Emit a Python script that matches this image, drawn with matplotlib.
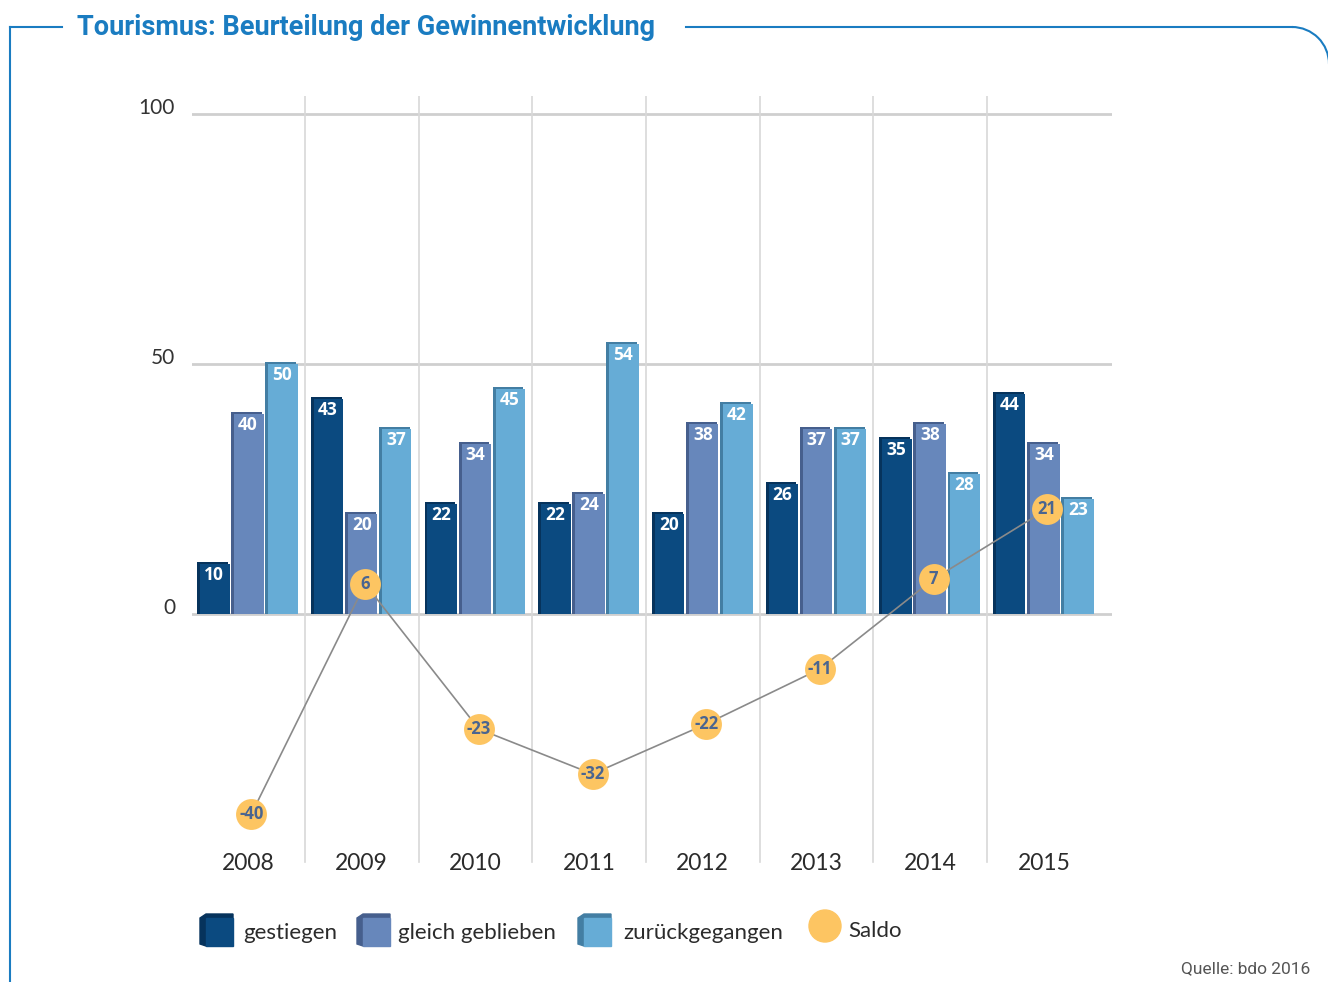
import numpy as np
import matplotlib
matplotlib.use("Agg")
import matplotlib.pyplot as plt
from matplotlib.patches import Rectangle, Circle, Polygon, Arc

# data
years = ["2008", "2009", "2010", "2011", "2012", "2013", "2014", "2015"]
gestiegen = [10, 43, 22, 22, 20, 26, 35, 44]
gleich = [40, 20, 34, 24, 38, 37, 38, 34]
zurueck = [50, 37, 45, 54, 42, 37, 28, 23]
saldo = [-40, 6, -23, -32, -22, -11, 7, 21]
yticks = [0, 50, 100]

series_names = ["gestiegen", "gleich geblieben", "zurückgegangen"]
colors = ["#0b4a80", "#6787bb", "#66acd6"]
shade = ["#06335c", "#465f8d", "#437ea3"]
blue = "#1a7cc1"
dot_col = "#fdc562"
dot_txt = "#4a6590"

plt.rcParams['font.family'] = ['Lato', 'DejaVu Sans']

fig = plt.figure(figsize=(13.28, 9.82), dpi=100)
W, H = 1328, 982

# main chart axes placed in pixel coords
left, right, top, bottom = 192, 1112, 96, 880
ax = fig.add_axes([left / W, 1 - bottom / H, (right - left) / W, (bottom - top) / H])
ax.set_xlim(-0.4925, 7.599)
ax.set_ylim(-53.2, 103.6)
ax.axis('off')

x = np.arange(len(years))

# grid
for v in yticks:
    ax.axhline(v, color="#cfcfcf", lw=2, zorder=1)
    ax.annotate(str(v), (-0.4925, v), xytext=(-17, 6), textcoords='offset pixels',
                ha='right', va='center', fontsize=15, color="#333333",
                annotation_clip=False)
for k in range(len(years) - 1):
    ax.plot([k + 0.5, k + 0.5], [-49.6, 103.6], color="#d8d8d8", lw=1.2, zorder=1)

# bars
offsets = [-0.3, 0.0, 0.3]
bw = 0.27
for vals, off, c, sc in zip([gestiegen, gleich, zurueck], offsets, colors, shade):
    # darker shadow strip for the 3d look
    ax.bar(x + off - 0.012, np.array(vals) + 0.35, width=bw, color=sc, zorder=2)
    ax.bar(x + off + 0.008, vals, width=bw - 0.01, color=c, zorder=3)
    for xi, v in zip(x, vals):
        ax.annotate(str(v), (xi + off, v), xytext=(0, -11), textcoords='offset pixels',
                    ha='center', va='center', fontsize=12.5, fontweight='bold',
                    color='white', zorder=4, family=['Open Sans', 'DejaVu Sans'])

# saldo line
xs = x + 0.03
ax.plot(xs, saldo, color="#8a8a8a", lw=1.2, zorder=5)
ax.scatter(xs, saldo, s=30 ** 2 * 0.55, color=dot_col, zorder=6, linewidths=0)
for xi, v in zip(xs, saldo):
    ax.text(xi, v, str(v), ha='center', va='center', fontsize=12, fontweight='bold',
            color=dot_txt, zorder=7, family=['Open Sans', 'DejaVu Sans'])

# year labels
for xi, yr in zip(x, years):
    ax.text(xi, -49.8, yr, ha='center', va='center', fontsize=16.5, color="#2b2b2b")

# overlay for frame, title, legend, source
ov = fig.add_axes([0, 0, 1, 1], zorder=-1)
ov.set_xlim(0, W)
ov.set_ylim(H, 0)
ov.axis('off')
ov.patch.set_alpha(0)

ov.plot([10, 10], [27, H], color=blue, lw=1.5)
ov.plot([10, 62], [27, 27], color=blue, lw=1.5)
ov.plot([686, 1292], [27, 27], color=blue, lw=1.5)
ov.add_patch(Arc((1292, 64), 74, 74, theta1=270, theta2=360, color=blue, lw=1.5))
ov.text(77, 27, "Tourismus: Beurteilung der Gewinnentwicklung", ha='left', va='center',
        fontsize=19.5, fontweight='bold', color=blue, family=['Roboto', 'DejaVu Sans'])

# legend
leg_boxes = [(200, 243), (357, 398), (578, 623)]
for (bx, tx), name, c, sc in zip(leg_boxes, series_names, colors, shade):
    ov.add_patch(Polygon([[bx, 918], [bx + 6, 914], [bx + 33, 914], [bx + 33, 942],
                          [bx + 6, 946], [bx, 944]], closed=True, color=sc))
    ov.add_patch(Rectangle((bx + 6, 918), 27, 28, color=c))
    ov.text(tx, 933, name, ha='left', va='center', fontsize=16, color="#2b2b2b")
ov.add_patch(Circle((825, 926), 16, color=dot_col))
ov.text(848, 931, "Saldo", ha='left', va='center', fontsize=16, color="#2b2b2b")

ov.text(1310, 969, "Quelle: bdo 2016", ha='right', va='center', fontsize=12.5,
        color="#555555", family=['Roboto', 'DejaVu Sans'])

fig.savefig("out.png", dpi=100)
